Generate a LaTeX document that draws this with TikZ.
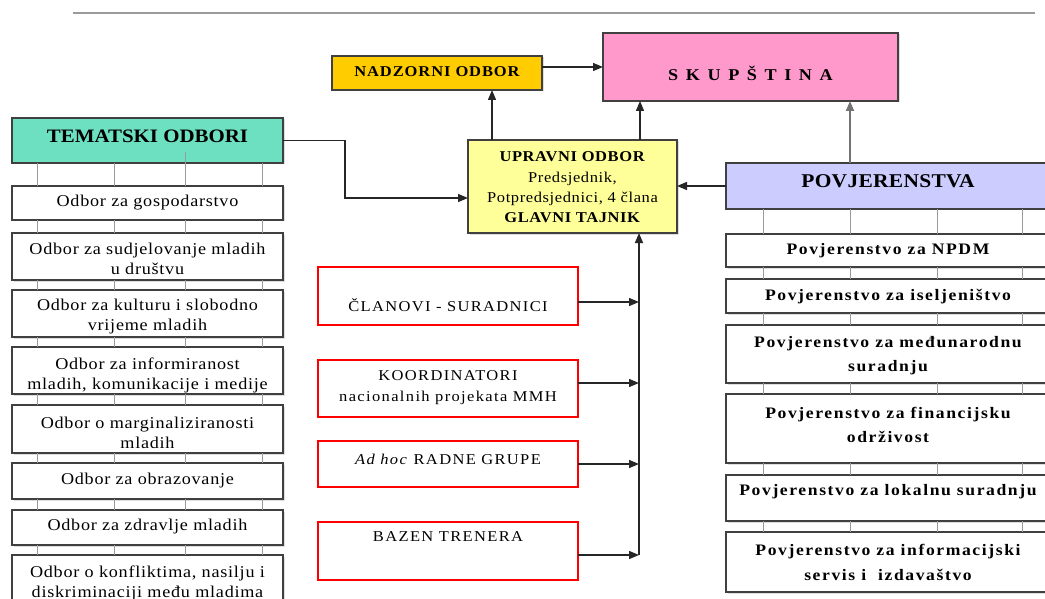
\documentclass[tikz,border=0pt]{standalone}
\usepackage{fontspec}
\setmainfont{Liberation Serif}[FakeStretch=1.1]
\usetikzlibrary{arrows.meta,shadows}
\definecolor{gold}{HTML}{FFCC00}
\definecolor{pinkb}{HTML}{FF99CC}
\definecolor{lyel}{HTML}{FFFF99}
\definecolor{teal2}{HTML}{6EE0C2}
\definecolor{lav}{HTML}{CCCCFF}
\definecolor{bord}{HTML}{404040}
\definecolor{gl}{HTML}{9A9A9A}
\newcommand\bx[9]{%
  \node[boxbase,#6,minimum width={#4pt-#2pt},minimum height={#5pt-#3pt}] (#1) at (#2,#3) {};
  \node[txt,#7] (#1-t) at ({(#2+#4)/2},#8) {#9};}
\begin{document}
\begin{tikzpicture}[x=1pt,y=-1pt,
  boxbase/.style={draw=bord, line width=1.2pt, anchor=north west, inner sep=0pt, outer sep=0pt},
  shad/.style={drop shadow={shadow xshift=1.5pt, shadow yshift=-1.5pt, fill=black!25}},
  redbox/.style={draw=red, line width=2.6pt},
  txt/.style={inner sep=0pt, outer sep=0pt, align=center},
  lt/.style={font=\fontsize{16.5}{20}\selectfont\addfontfeatures{LetterSpace=4.5}},
  rt/.style={font=\fontsize{16}{24.5}\selectfont\bfseries\addfontfeatures{LetterSpace=10}},
  redt/.style={font=\fontsize{15}{21}\selectfont\addfontfeatures{LetterSpace=9}},
  hdt/.style={font=\fontsize{19}{22}\selectfont\bfseries},
  hdr/.style={font=\fontsize{19.5}{22}\selectfont\bfseries\addfontfeatures{LetterSpace=1.5}},
  nadt/.style={font=\fontsize{15}{18}\selectfont\bfseries\addfontfeatures{LetterSpace=6}},
  upt/.style={font=\fontsize{15}{20.3}\selectfont\addfontfeatures{LetterSpace=4}},
  skt/.style={font=\fontsize{16.5}{20}\selectfont\bfseries\addfontfeatures{LetterSpace=46}},
  arr/.style={-{Triangle[length=10pt,width=8pt]}, line width=1.3pt, black!85},
  garr/.style={-{Triangle[length=10pt,width=8pt]}, line width=1.8pt, black!55},
  gcon/.style={draw=gl, line width=1pt}]
\useasboundingbox (0,0) rectangle (1045,599);
\fill[white] (0,0) rectangle (1045,599);
% top rule
\draw[gl, line width=2.5pt] (73,13) -- (1035,13);

% central boxes
\bx{nad}{332}{56}{542}{90}{fill=gold,shad}{nadt}{72}{NADZORNI ODBOR}
\bx{sk}{603}{33}{898}{101}{fill=pinkb,shad}{skt}{73}{SKUPŠTINA}
\bx{up}{468}{140}{677}{233}{fill=lyel,shad}{upt}{187.5}{\textbf{UPRAVNI ODBOR}\\Predsjednik,\\Potpredsjednici, 4 člana\\\textbf{GLAVNI TAJNIK}}
\bx{tem}{12}{118}{283}{163}{fill=teal2,shad}{hdt}{136}{TEMATSKI ODBORI}
\bx{pov}{726}{163}{1050}{209}{fill=lav,shad}{hdr}{181}{POVJERENSTVA}

% left column
\bx{l1}{12}{186}{283}{220}{fill=white,shad}{lt}{203}{Odbor za gospodarstvo}
\bx{l2}{12}{233}{283}{280}{fill=white,shad}{lt}{259}{Odbor za sudjelovanje mladih\\u društvu}
\bx{l3}{12}{290}{283}{337}{fill=white,shad}{lt}{317}{Odbor za kulturu i slobodno\\vrijeme mladih}
\bx{l4}{12}{347}{283}{394}{fill=white,shad}{lt}{375.5}{Odbor za informiranost\\mladih, komunikacije i medije}
\bx{l5}{12}{405}{283}{453}{fill=white,shad}{lt}{433}{Odbor o marginaliziranosti\\mladih}
\bx{l6}{12}{463}{283}{499}{fill=white,shad}{lt}{481}{Odbor za obrazovanje}
\bx{l7}{12}{510}{283}{545}{fill=white,shad}{lt}{527}{Odbor za zdravlje mladih}
\bx{l8}{12}{555}{283}{612}{fill=white,shad}{lt}{583}{Odbor o konfliktima, nasilju i\\diskriminaciji među mladima}

% right column
\bx{r1}{726}{234}{1050}{267}{fill=white,shad}{rt}{251}{Povjerenstvo za NPDM}
\bx{r2}{726}{279}{1050}{313}{fill=white,shad}{rt}{297}{Povjerenstvo za iseljeništvo}
\bx{r3}{726}{325}{1050}{383}{fill=white,shad}{rt}{355.5}{Povjerenstvo za međunarodnu\\suradnju}
\bx{r4}{726}{394}{1050}{463}{fill=white,shad}{rt}{425}{Povjerenstvo za financijsku\\održivost}
\bx{r5}{726}{475}{1050}{521}{fill=white,shad}{rt}{492}{Povjerenstvo za lokalnu suradnju}
\bx{r6}{726}{532}{1050}{592}{fill=white,shad}{rt}{562.5}{Povjerenstvo za informacijski\\servis i\ \ izdavaštvo}

% red boxes
\bx{cl}{318}{267}{578}{325}{redbox,fill=white}{redt}{305}{ČLANOVI - SURADNICI}
\bx{ko}{318}{360}{578}{417}{redbox,fill=white}{redt}{387.5}{KOORDINATORI\\nacionalnih projekata MMH}
\bx{ad}{318}{441}{578}{487}{redbox,fill=white}{redt}{459}{\textit{Ad hoc} RADNE GRUPE}
\bx{bz}{318}{522}{578}{580}{redbox,fill=white}{redt}{537}{BAZEN TRENERA}

% column connectors
\foreach \a/\b in {tem/l1,l1/l2,l2/l3,l3/l4,l4/l5,l5/l6,l6/l7,l7/l8}
  \foreach \x in {37,114,185,262}
    \draw[gcon] (\a.south -| \x,0) -- (\b.north -| \x,0);
\draw[gcon] (185,152) -- (tem.south -| 185,0);
\foreach \a/\b in {pov/r1,r1/r2,r2/r3,r3/r4,r4/r5,r5/r6}
  \foreach \x in {763,850,937,1022}
    \draw[gcon] (\a.south -| \x,0) -- (\b.north -| \x,0);

% arrows
\draw[arr] (nad.east |- 0,67) -- (sk.west |- 0,67);
\draw[arr] (up.north -| 492,0) -- (nad.south -| 492,0);
\draw[arr] (up.north -| 640,0) -- (sk.south -| 640,0);
\draw[arr] (tem.east) -- (345,140.5) |- (up.west |- 0,198);
\draw[arr] (pov.west) -- (up.east |- pov.west);
\draw[garr] (pov.north -| 850,0) -- (sk.south -| 850,0);
\coordinate (bus) at (639,555);
\draw[arr] (bus) -- (up.south -| bus);
\foreach \n/\y in {cl/302,ko/383,ad/464,bz/555}
  \draw[arr] (\n.east |- 0,\y) -- (bus |- 0,\y);
\end{tikzpicture}
\end{document}
